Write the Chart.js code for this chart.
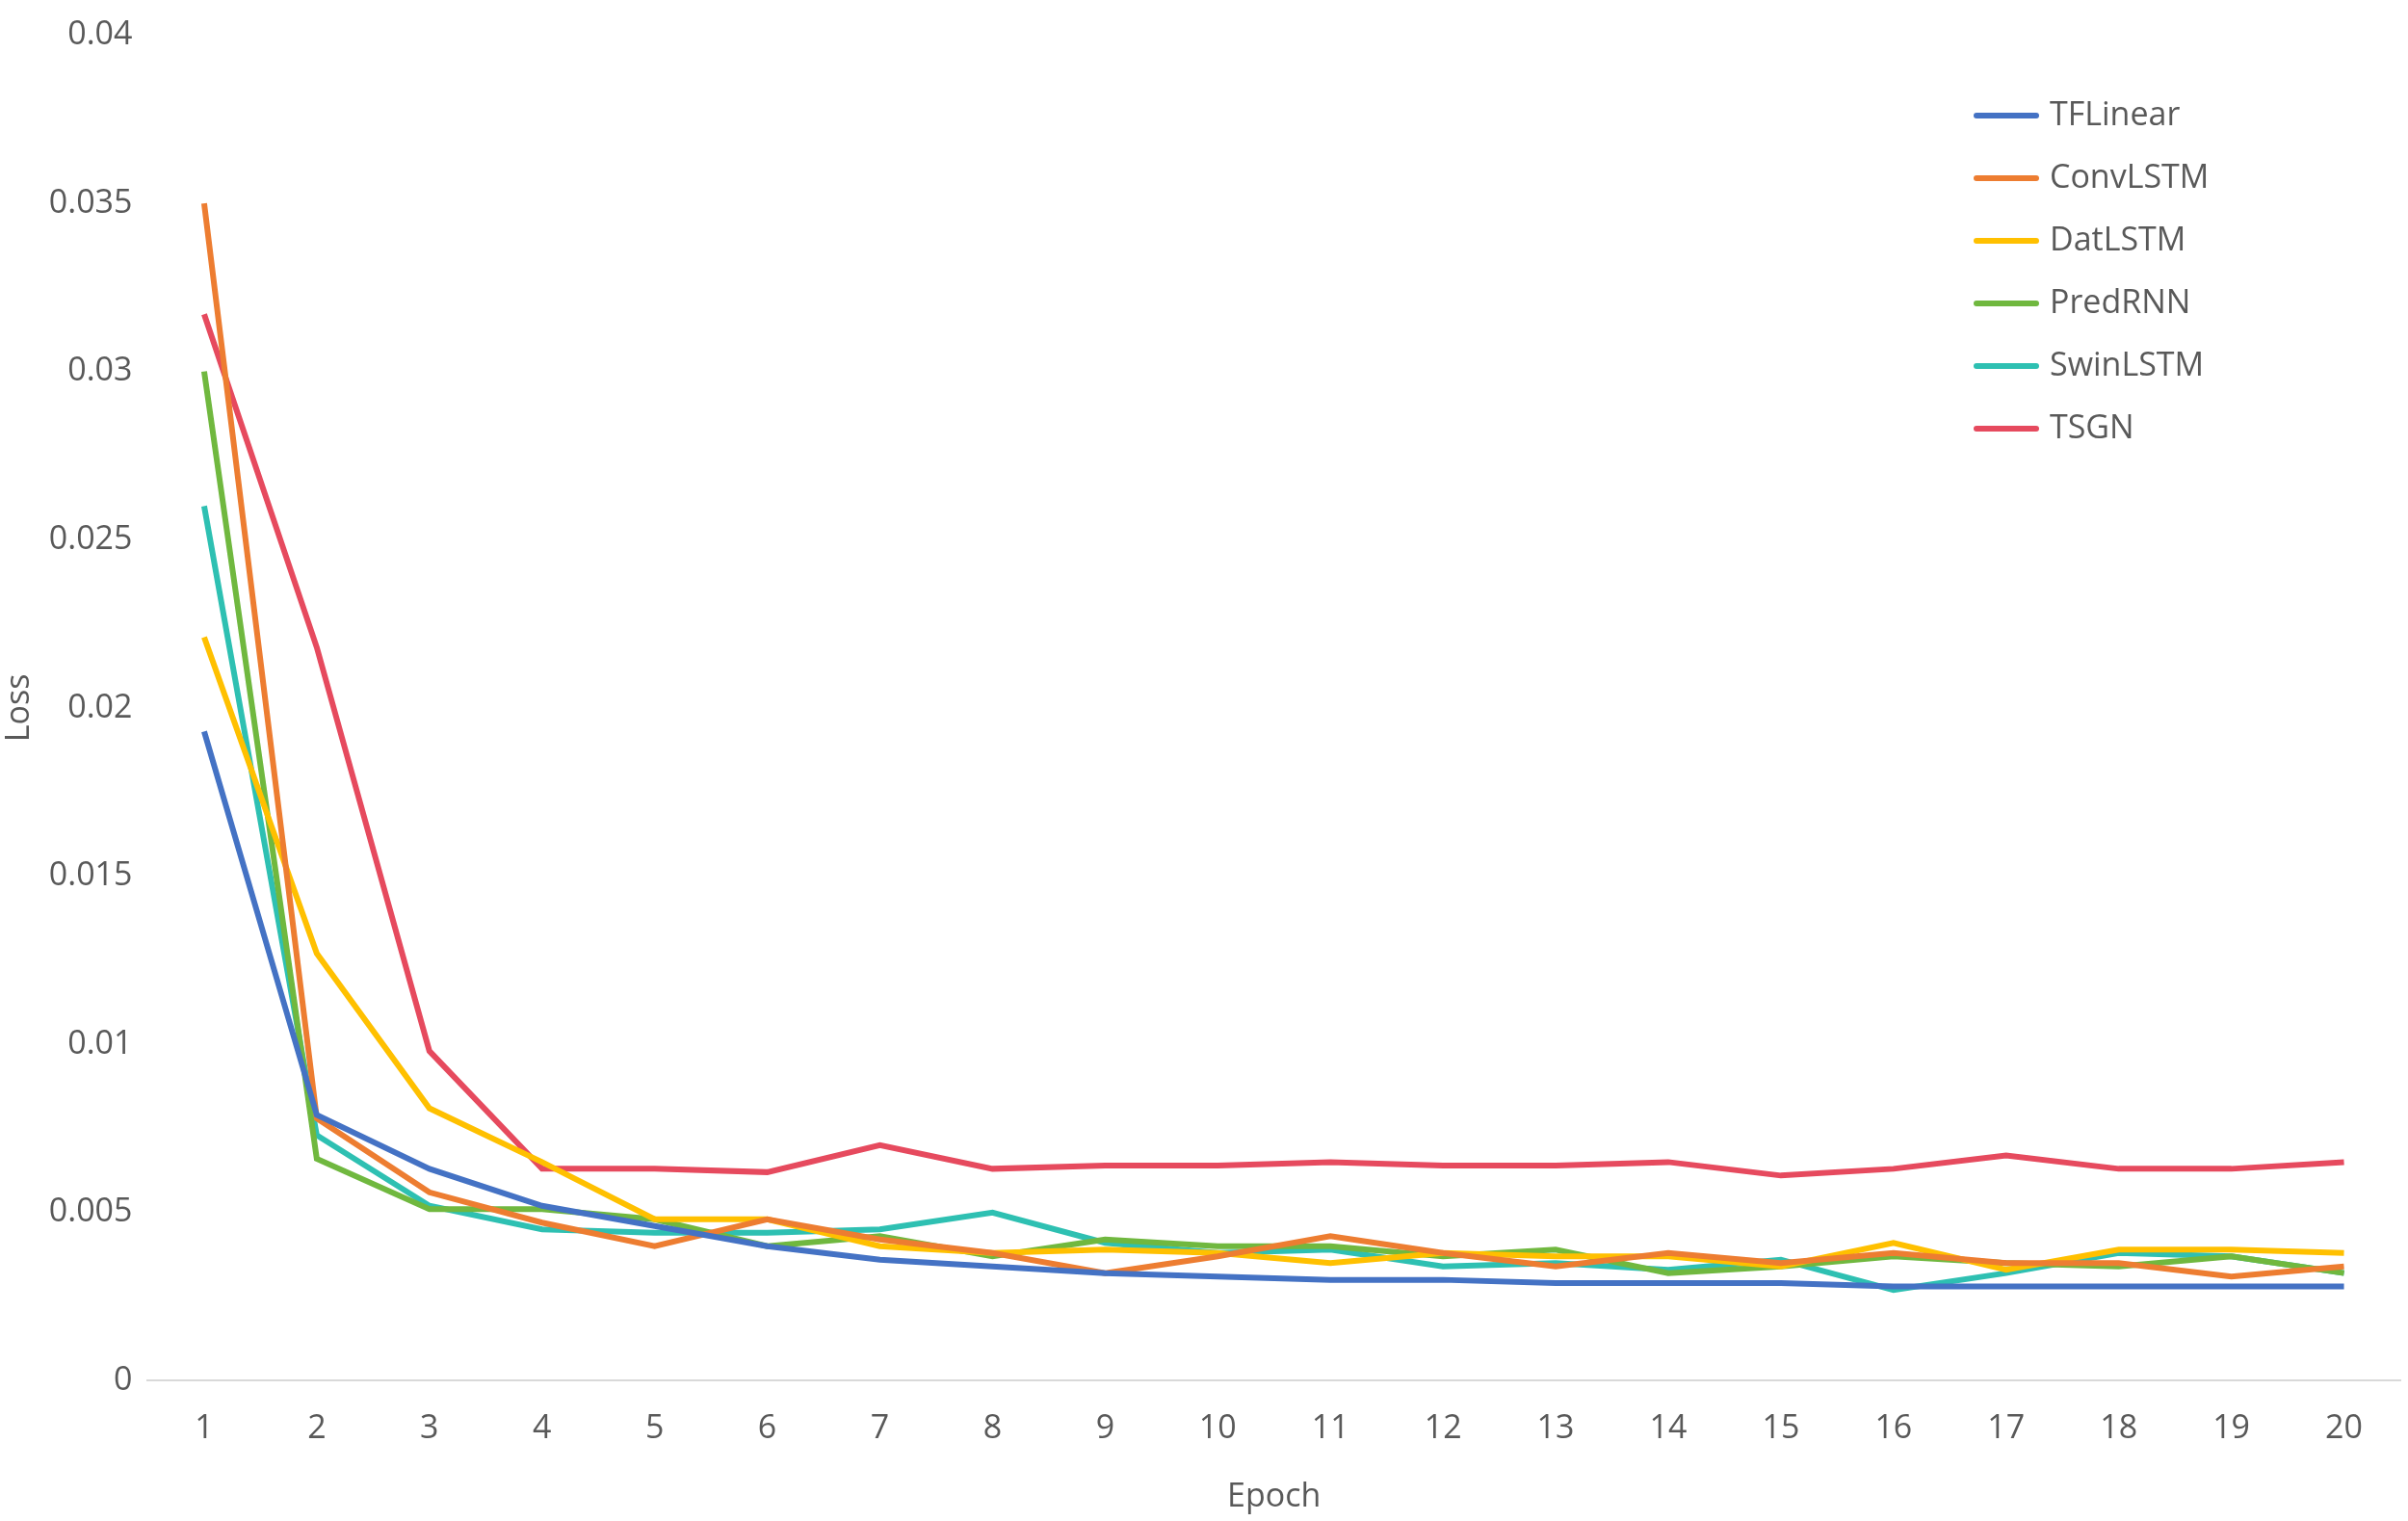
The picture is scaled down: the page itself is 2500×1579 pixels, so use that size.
<!DOCTYPE html>
<html>
<head>
<meta charset="utf-8">
<script src="https://cdn.jsdelivr.net/npm/chart.js@4"></script>
<style>
  html, body { margin: 0; padding: 0; background: #fff; }
  #wrap { width: 2500px; height: 1579px; }
</style>
</head>
<body>
<div id="wrap"><canvas id="lossChart"></canvas></div>
<script>
// === DATA ===
const epochs = ["1","2","3","4","5","6","7","8","9","10","11","12","13","14","15","16","17","18","19","20"];
const seriesNames = ["TFLinear", "ConvLSTM", "DatLSTM", "PredRNN", "SwinLSTM", "TSGN"];
const seriesColors = ["#4472C4", "#ED7D31", "#FFC000", "#70B83F", "#2EC0B2", "#E64A5E"];
const tfLinear = [0.0193, 0.0079, 0.0063, 0.0052, 0.0046, 0.0040, 0.0036, 0.0034, 0.0032, 0.0031, 0.0030, 0.0030, 0.0029, 0.0029, 0.0029, 0.0028, 0.0028, 0.0028, 0.0028, 0.0028];
const convLstm = [0.0350, 0.0078, 0.0056, 0.0047, 0.0040, 0.0048, 0.0042, 0.0038, 0.0032, 0.0037, 0.0043, 0.0038, 0.0034, 0.0038, 0.0035, 0.0038, 0.0035, 0.0035, 0.0031, 0.0034];
const datLstm = [0.0221, 0.0127, 0.0081, 0.0065, 0.0048, 0.0048, 0.0040, 0.0038, 0.0039, 0.0038, 0.0035, 0.0038, 0.0037, 0.0037, 0.0034, 0.0041, 0.0033, 0.0039, 0.0039, 0.0038];
const predRnn = [0.0300, 0.0066, 0.0051, 0.0051, 0.0048, 0.0040, 0.0043, 0.0037, 0.0042, 0.0040, 0.0040, 0.0037, 0.0039, 0.0032, 0.0034, 0.0037, 0.0035, 0.0034, 0.0037, 0.0032];
const swinLstm = [0.0260, 0.0073, 0.0052, 0.0045, 0.0044, 0.0044, 0.0045, 0.0050, 0.0041, 0.0038, 0.0039, 0.0034, 0.0035, 0.0033, 0.0036, 0.0027, 0.0032, 0.0038, 0.0037, 0.0032];
const tsgn = [0.0317, 0.0218, 0.0098, 0.0063, 0.0063, 0.0062, 0.0070, 0.0063, 0.0064, 0.0064, 0.0065, 0.0064, 0.0064, 0.0065, 0.0061, 0.0063, 0.0067, 0.0063, 0.0063, 0.0065];
const allSeries = [tfLinear, convLstm, datLstm, predRnn, swinLstm, tsgn];

const fontFamily = "'Segoe UI', 'Open Sans', 'Noto Sans', sans-serif";
const textColor = "#595959";

// === LEGEND INSIDE PLOT (top right) ===
const innerLegend = {
  id: "innerLegend",
  afterDraw(chart) {
    const c = chart.ctx;
    const x0 = 2052, y0 = 120, step = 65;
    c.save();
    c.font = "34px " + fontFamily;
    c.textBaseline = "middle";
    chart.data.datasets.forEach((ds, i) => {
      const y = y0 + i * step;
      c.strokeStyle = ds.borderColor;
      c.lineWidth = 6;
      c.lineCap = "round";
      c.beginPath();
      c.moveTo(x0, y);
      c.lineTo(x0 + 62, y);
      c.stroke();
      c.fillStyle = textColor;
      c.fillText(ds.label, x0 + 76, y);
    });
    c.restore();
  }
};

const ctx = document.getElementById("lossChart").getContext("2d");
new Chart(ctx, {
  type: "line",
  data: {
    labels: epochs,
    datasets: seriesNames.map((name, i) => ({
      label: name,
      data: allSeries[i],
      borderColor: seriesColors[i],
      backgroundColor: seriesColors[i],
      borderWidth: 6,
      pointRadius: 0,
      tension: 0
    }))
  },
  options: {
    responsive: true,
    maintainAspectRatio: false,
    animation: false,
    layout: { padding: { top: 0, right: 8, left: 0, bottom: 4 } },
    plugins: { legend: { display: false }, tooltip: { enabled: false } },
    scales: {
      x: {
        offset: true,
        grid: { display: false, drawTicks: false },
        border: { display: true, color: "#D9D9D9", width: 2 },
        ticks: { color: textColor, font: { size: 34, family: fontFamily }, padding: 30 },
        title: { display: true, text: "Epoch", color: textColor, font: { size: 34, family: fontFamily }, padding: { top: 0, bottom: 0 } }
      },
      y: {
        min: 0,
        max: 0.04,
        grid: { display: false, drawTicks: false },
        border: { display: false },
        ticks: {
          stepSize: 0.005,
          color: textColor,
          font: { size: 34, family: fontFamily },
          padding: 16,
          callback: v => String(Math.round(v * 1000) / 1000)
        },
        title: { display: true, text: "Loss", color: textColor, font: { size: 34, family: fontFamily }, padding: { top: 0, bottom: -6 } }
      }
    }
  },
  plugins: [innerLegend]
});
</script>
</body>
</html>
